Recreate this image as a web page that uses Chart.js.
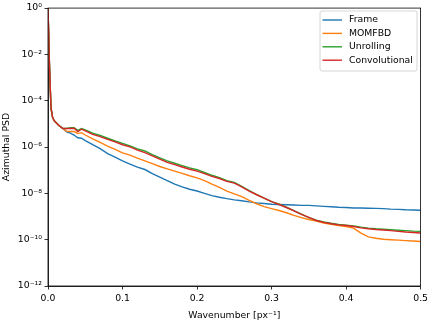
<!DOCTYPE html>
<html>
<head>
<meta charset="utf-8">
<script src="https://cdn.jsdelivr.net/npm/chart.js@4"></script>
<style>
  html, body { margin: 0; padding: 0; background: #fff; }
  #psdChart { display: block; }
</style>
</head>
<body>
<canvas id="psdChart" width="432" height="324"></canvas>
<script>
const wavenumber = [0, 0.002, 0.004, 0.006, 0.008, 0.01, 0.015, 0.02, 0.025, 0.03, 0.035, 0.04, 0.045, 0.05,
    0.06, 0.07, 0.08, 0.09, 0.10, 0.11, 0.12, 0.13, 0.14, 0.15, 0.16, 0.17, 0.18, 0.19, 0.20,
    0.21, 0.22, 0.23, 0.24, 0.25, 0.26, 0.27, 0.28, 0.29, 0.30, 0.31, 0.32, 0.33, 0.34, 0.35,
    0.36, 0.37, 0.38, 0.39, 0.40, 0.41, 0.42, 0.43, 0.44, 0.45, 0.46, 0.47, 0.48, 0.49, 0.50];

// first 8 points are common to all curves (the spike at low wavenumber)
const frame = [1, 3.2e-3, 5.0e-5, 2.0e-5, 1.41e-5, 1.2e-5, 8.3e-6, 6.3e-6, 4.47e-6, 3.98e-6, 3.31e-6, 2.51e-6, 2.4e-6, 1.91e-6,
    1.26e-6, 8.51e-7, 5.25e-7, 3.63e-7, 2.51e-7, 1.82e-7, 1.35e-7, 1.07e-7, 7.08e-8, 5.01e-8, 3.55e-8, 2.51e-8, 1.91e-8, 1.51e-8, 1.26e-8,
    1.0e-8, 7.94e-9, 6.76e-9, 5.89e-9, 5.25e-9, 4.79e-9, 4.27e-9, 3.89e-9, 3.63e-9, 3.39e-9, 3.31e-9, 3.24e-9, 3.16e-9, 3.02e-9, 3.02e-9,
    2.88e-9, 2.75e-9, 2.63e-9, 2.51e-9, 2.45e-9, 2.34e-9, 2.34e-9, 2.29e-9, 2.24e-9, 2.19e-9, 2.09e-9, 2.04e-9, 1.95e-9, 1.91e-9, 1.86e-9];

const momfbd = [1, 3.2e-3, 5.0e-5, 2.0e-5, 1.41e-5, 1.2e-5, 8.3e-6, 6.3e-6, 4.79e-6, 4.68e-6, 4.68e-6, 3.8e-6, 4.17e-6, 3.31e-6,
    2.24e-6, 1.58e-6, 1.1e-6, 7.94e-7, 5.62e-7, 4.47e-7, 3.31e-7, 2.51e-7, 1.91e-7, 1.45e-7, 1.15e-7, 9.12e-8, 7.24e-8, 5.75e-8, 4.68e-8,
    3.55e-8, 2.51e-8, 1.82e-8, 1.26e-8, 9.55e-9, 7.24e-9, 5.01e-9, 3.55e-9, 2.69e-9, 2.19e-9, 1.82e-9, 1.45e-9, 1.12e-9, 8.91e-10, 7.41e-10,
    6.31e-10, 5.25e-10, 4.57e-10, 4.07e-10, 3.72e-10, 3.16e-10, 1.91e-10, 1.32e-10, 1.15e-10, 1.05e-10, 1.0e-10, 9.55e-11, 9.12e-11, 8.71e-11, 8.32e-11];

const unrolling = [1, 3.2e-3, 5.0e-5, 2.0e-5, 1.41e-5, 1.2e-5, 8.3e-6, 6.3e-6, 6.3e-6, 6.76e-6, 6.76e-6, 5.25e-6, 6.31e-6, 5.5e-6,
    3.98e-6, 3.16e-6, 2.4e-6, 1.82e-6, 1.45e-6, 1.12e-6, 8.32e-7, 6.76e-7, 4.68e-7, 3.39e-7, 2.51e-7, 2.0e-7, 1.58e-7, 1.26e-7, 1.05e-7,
    7.94e-8, 6.03e-8, 4.79e-8, 3.55e-8, 2.95e-8, 2.0e-8, 1.32e-8, 8.91e-9, 6.17e-9, 4.37e-9, 3.39e-9, 2.51e-9, 1.78e-9, 1.26e-9, 8.91e-10,
    6.92e-10, 5.89e-10, 5.13e-10, 4.57e-10, 4.27e-10, 3.89e-10, 3.47e-10, 3.16e-10, 2.95e-10, 2.82e-10, 2.69e-10, 2.57e-10, 2.45e-10, 2.34e-10, 2.29e-10];

const convolutional = [1, 3.2e-3, 5.0e-5, 2.0e-5, 1.41e-5, 1.2e-5, 8.3e-6, 6.3e-6, 6.3e-6, 6.3e-6, 6.46e-6, 4.68e-6, 5.89e-6, 5.01e-6,
    3.55e-6, 2.82e-6, 2.14e-6, 1.66e-6, 1.26e-6, 1.02e-6, 7.41e-7, 5.75e-7, 4.17e-7, 3.02e-7, 2.19e-7, 1.74e-7, 1.38e-7, 1.1e-7, 9.12e-8,
    7.08e-8, 5.37e-8, 4.37e-8, 3.31e-8, 2.75e-8, 1.91e-8, 1.26e-8, 8.71e-9, 6.17e-9, 4.37e-9, 3.31e-9, 2.45e-9, 1.74e-9, 1.23e-9, 9.12e-10,
    6.76e-10, 5.62e-10, 4.9e-10, 4.37e-10, 4.07e-10, 3.72e-10, 3.24e-10, 2.95e-10, 2.75e-10, 2.63e-10, 2.45e-10, 2.29e-10, 2.14e-10, 2.04e-10, 1.95e-10];

const seriesNames = ['Frame', 'MOMFBD', 'Unrolling', 'Convolutional'];
const seriesColors = ['#1f77b4', '#ff7f0e', '#2ca02c', '#d62728'];

const xTickValues = [0, 0.1, 0.2, 0.3, 0.4, 0.5];
const xTickLabels = ['0.0', '0.1', '0.2', '0.3', '0.4', '0.5'];
const yTickValues = [1e-12, 1e-10, 1e-8, 1e-6, 1e-4, 1e-2, 1];
const yTickLabels = ['10⁻¹²', '10⁻¹⁰', '10⁻⁸', '10⁻⁶', '10⁻⁴', '10⁻²', '10⁰'];

const FONT = '"DejaVu Sans", sans-serif';
const allSeries = [frame, momfbd, unrolling, convolutional];

const datasets = allSeries.map((vals, i) => ({
    label: seriesNames[i],
    data: vals.map((v, j) => ({ x: wavenumber[j], y: v })),
    borderColor: seriesColors[i],
    backgroundColor: seriesColors[i],
    borderWidth: 1.4,
    pointRadius: 0,
    tension: 0,
    fill: false,
    order: allSeries.length - i // last series drawn on top
}));

// box around plot + matplotlib style legend
const framePlugin = {
    id: 'framePlugin',
    afterDraw(chart) {
        const { ctx, chartArea: a } = chart;
        ctx.save();
        ctx.strokeStyle = '#000';
        ctx.lineWidth = 0.8;
        ctx.strokeRect(a.left, a.top, a.right - a.left, a.bottom - a.top);

        // legend
        const bx = 320, by = 11, bw = 97, bh = 60;
        ctx.fillStyle = 'rgba(255,255,255,0.8)';
        ctx.strokeStyle = '#cccccc';
        ctx.lineWidth = 0.8;
        ctx.beginPath();
        ctx.roundRect(bx, by, bw, bh, 2);
        ctx.fill();
        ctx.stroke();
        ctx.font = '9.3px ' + FONT;
        ctx.textBaseline = 'middle';
        ctx.textAlign = 'left';
        chart.data.datasets.forEach((ds, i) => {
            const y = 20 + i * 13.4;
            ctx.strokeStyle = ds.borderColor;
            ctx.lineWidth = 1.4;
            ctx.beginPath();
            ctx.moveTo(322.5, y);
            ctx.lineTo(342, y);
            ctx.stroke();
            ctx.fillStyle = '#000';
            ctx.fillText(ds.label, 349, y);
        });
        ctx.restore();
    }
};

new Chart(document.getElementById('psdChart'), {
    type: 'line',
    data: { datasets: datasets },
    options: {
        responsive: false,
        animation: false,
        devicePixelRatio: 1,
        layout: { padding: { top: 6, right: 10, left: 0, bottom: 0 } },
        plugins: { legend: { display: false }, tooltip: { enabled: false } },
        scales: {
            x: {
                type: 'linear',
                min: 0, max: 0.5,
                afterBuildTicks: s => { s.ticks = xTickValues.map(v => ({ value: v })); },
                afterFit: s => { s.height = 38; },
                ticks: {
                    color: '#000', font: { family: FONT, size: 9.3 }, padding: 4,
                    maxRotation: 0,
                    callback: (v, i) => xTickLabels[i]
                },
                grid: { display: true, drawOnChartArea: false, drawTicks: true, tickLength: 3.5, color: '#000', lineWidth: 0.8 },
                border: { display: true, color: '#000', width: 0.8 },
                title: { display: true, text: 'Wavenumber [px⁻¹]', color: '#000', font: { family: FONT, size: 9.3 }, padding: { top: 0, bottom: 3 } }
            },
            y: {
                type: 'logarithmic',
                min: 1e-12, max: 1,
                afterBuildTicks: s => { s.ticks = yTickValues.map(v => ({ value: v })); },
                afterFit: s => { s.width = 48; },
                ticks: {
                    color: '#000', font: { family: FONT, size: 9.3 }, padding: 2.5,
                    callback: (v, i) => yTickLabels[i]
                },
                grid: { display: true, drawOnChartArea: false, drawTicks: true, tickLength: 3.5, color: '#000', lineWidth: 0.8 },
                border: { display: true, color: '#000', width: 0.8 },
                title: { display: true, text: 'Azimuthal PSD', color: '#000', font: { family: FONT, size: 9.3 }, padding: { top: 1, bottom: 0 } }
            }
        }
    },
    plugins: [framePlugin]
});
</script>
</body>
</html>
